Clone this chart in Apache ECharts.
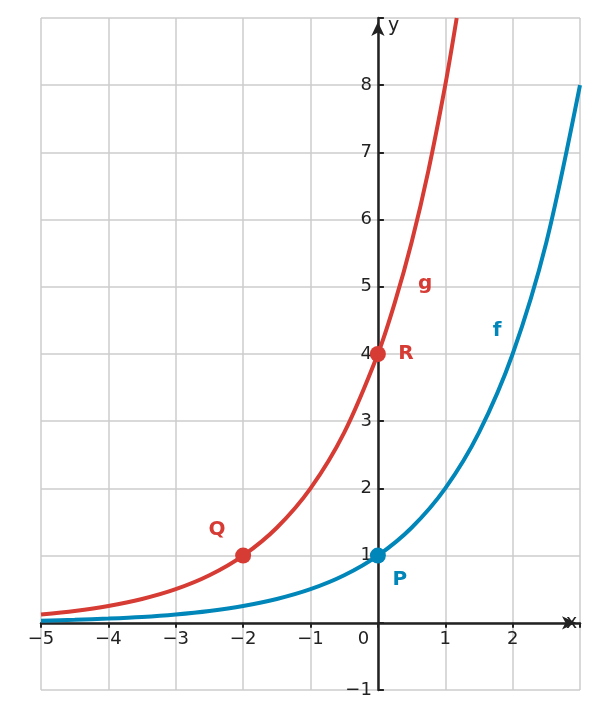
<!DOCTYPE html><html><head><meta charset="utf-8">
<script src="https://cdn.jsdelivr.net/npm/echarts@6/dist/echarts.min.js"></script>
<style>html,body{margin:0;padding:0;background:#fff}#c{width:598px;height:719px}</style></head><body><div id="c"></div>
<script>
const fX=[-5,-4.5,-4,-3.5,-3,-2.5,-2,-1.5,-1,-0.5,0,0.5,1,1.5,2,2.5,3];
const fY=[0.03,0.044,0.063,0.088,0.125,0.177,0.25,0.354,0.5,0.707,1,1.414,2,2.83,4,5.66,8];
const gX=[-5,-4.5,-4,-3.5,-3,-2.5,-2,-1.5,-1,-0.5,0,0.25,0.5,0.75,1,1.17];
const gY=[0.125,0.177,0.25,0.354,0.5,0.707,1,1.414,2,2.83,4,4.76,5.66,6.73,8,9];
const points=[{n:'P',x:0,y:1,c:'#0086b8',pos:[22,24]},{n:'Q',x:-2,y:1,c:'#d63b34',pos:[-26,-26]},{n:'R',x:0,y:4,c:'#d63b34',pos:[28,0]}];
const curveLabels=[{n:'g',x:0.7,y:5.05,c:'#d63b34'},{n:'f',x:1.77,y:4.35,c:'#0086b8'}];
const RED='#d63b34',BLUE='#0086b8';
const fmt=v=>String(v).replace('-','\u2212');
const ch=echarts.init(document.getElementById('c'));
ch.setOption({
 animation:false,
 grid:{left:41,right:18,top:18,bottom:29,containLabel:false},
 xAxis:{type:'value',min:-5,max:3,interval:1,name:'x',nameLocation:'end',nameGap:-14,offset:-67.2,
  nameTextStyle:{fontSize:19,color:'#222',padding:[0,0,40,0],fontFamily:'DejaVu Sans'},
  axisLine:{onZero:false,lineStyle:{color:'#222',width:2.5},symbol:['none','arrow'],symbolSize:[10,14],symbolOffset:[0,-4]},
  axisTick:{show:true,inside:false,length:5,lineStyle:{color:'#222',width:2}},
  splitLine:{lineStyle:{color:'#cccccc',width:1.5}},
  axisLabel:{fontSize:18,color:'#222',fontFamily:'DejaVu Sans',margin:8,
   formatter:v=>v===3?'':(v===0?'0     ':fmt(v))}},
 yAxis:{type:'value',min:-1,max:9,interval:1,name:'y',nameLocation:'end',nameGap:-18,offset:-336.9,
  nameTextStyle:{fontSize:19,color:'#222',align:'left',padding:[0,0,0,10],fontFamily:'DejaVu Sans'},
  axisLine:{onZero:false,lineStyle:{color:'#222',width:2.5},symbol:['none','arrow'],symbolSize:[10,14],symbolOffset:[0,-4]},
  axisTick:{show:true,inside:true,length:6,lineStyle:{color:'#222',width:2}},
  splitLine:{lineStyle:{color:'#cccccc',width:1.5}},
  axisLabel:{fontSize:18,color:'#222',fontFamily:'DejaVu Sans',margin:6,
   formatter:v=>(v===0||v===9)?'':fmt(v)}},
 series:[
  {type:'line',data:fX.map((x,i)=>[x,fY[i]]),smooth:0.3,symbol:'none',lineStyle:{color:BLUE,width:4},z:3},
  {type:'line',data:gX.map((x,i)=>[x,gY[i]]),smooth:0.3,symbol:'none',lineStyle:{color:RED,width:4},z:3},
  {type:'scatter',symbolSize:16,z:5,data:points.map(p=>({value:[p.x,p.y],itemStyle:{color:p.c,opacity:1},
   label:{show:true,formatter:p.n,color:p.c,fontSize:20,fontWeight:'bold',fontFamily:'DejaVu Sans',position:'inside',offset:p.pos}}))},
  {type:'scatter',symbolSize:0,z:5,data:curveLabels.map(p=>({value:[p.x,p.y],itemStyle:{opacity:1},
   label:{show:true,formatter:p.n,color:p.c,fontSize:20,fontWeight:'bold',fontFamily:'DejaVu Sans',position:'inside'}}))}
 ]
});
</script></body></html>
